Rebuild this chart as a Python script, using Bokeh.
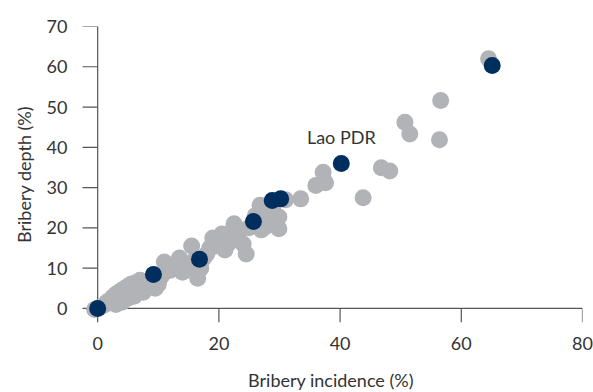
from bokeh.plotting import figure
from bokeh.models import Range1d, ColumnDataSource
from bokeh.embed import file_html
from bokeh.resources import INLINE
from bokeh.core.properties import value

# Gray: all economies
gray_x = [-0.5, 0.3, 1, 1.5, 2, 2.5, 3, 3.5, 4, 4.5, 5, 5.5, 6, 6.5, 7, 3, 4, 5, 6, 7.5, 8, 8.5, 7,
          9, 9.5, 10, 10, 10.5, 11, 12, 11, 12, 13, 13.5, 14, 14.5, 15, 15.5, 16, 16.5, 17, 17.5, 18,
          18.5, 19, 19.5, 20, 20.5, 21, 21.5, 22, 22.5, 23, 23.5, 24, 24.5, 25, 26, 26.8, 27, 27.7,
          28, 29, 29.9, 29.9, 31, 33.5, 36, 37.2, 37.6, 43.8, 46.8, 48.2, 50.7, 51.5, 56.4, 56.6, 64.5]
gray_y = [-0.3, 0.2, 0.8, 1.5, 2, 2.8, 3.5, 4, 4.5, 5, 5.5, 6, 6.2, 6.5, 7, 1, 1.5, 2.5, 3, 4, 5, 5.5, 5.5,
          6.5, 5, 6, 7, 8, 9, 9.5, 11.5, 10, 11, 12.5, 9, 10, 11, 15.5, 12, 7.5, 10, 12.5, 13.5,
          15, 17.5, 15.5, 17, 18.5, 14.5, 16, 19, 21, 17, 19.5, 16, 13.5, 20, 23, 25.6, 19.5, 20.3,
          22, 24, 22.7, 19.8, 27, 27.2, 30.5, 33.8, 31.2, 27.5, 34.9, 34.1, 46.2, 43.3, 41.9, 51.6, 62.0]

# Navy: highlighted economies
navy_x = [0, 9.2, 16.8, 25.7, 28.8, 30.2, 40.2, 65.1]
navy_y = [0, 8.4, 12.2, 21.6, 26.8, 27.2, 36.0, 60.3]

label_x = [40.2]
label_y = [36.0]
label_text = ["Lao PDR"]

x_ticks = [0, 20, 40, 60, 80]
y_ticks = [0, 10, 20, 30, 40, 50, 60, 70]

FONT = "Lato"
TXT = "#333333"
AXC = "#555555"

X_LO, X_HI = -3.0, 80.0
Y_LO, Y_HI = -3.5, 70.0

p = figure(frame_width=503, frame_height=296,
           x_range=Range1d(X_LO, X_HI), y_range=Range1d(Y_LO, Y_HI),
           output_backend="svg", toolbar_location=None,
           min_border_left=79, min_border_top=26, min_border_right=11, min_border_bottom=70)
p.outline_line_color = None
p.grid.visible = False

# axis lines crossing at the origin, with outward ticks
p.segment(x0=[0, 0], y0=[0, 0], x1=[x_ticks[-1], 0], y1=[0, y_ticks[-1]],
          line_color=AXC, line_width=1.2)
p.segment(x0=x_ticks, y0=[0] * len(x_ticks), x1=x_ticks, y1=[Y_LO] * len(x_ticks),
          line_color=AXC, line_width=1.2)
p.segment(x0=[0] * len(y_ticks), y0=y_ticks, x1=[-2.5] * len(y_ticks), y1=y_ticks,
          line_color=AXC, line_width=1.2)

p.scatter(gray_x, gray_y, size=17, fill_color="#b2b3b7", line_color=None)
p.scatter(navy_x, navy_y, size=17, fill_color="#002f5f", line_color=None)

src = ColumnDataSource(dict(x=label_x, y=label_y, t=label_text))
p.text(x="x", y="y", text="t", source=src, text_font=value(FONT), text_font_size="18px",
       text_color=TXT, text_align="center", text_baseline="middle", y_offset=-26)

for ax in (p.xaxis, p.yaxis):
    ax.axis_line_color = None
    ax.major_tick_line_color = None
    ax.major_tick_out = 0
    ax.major_tick_in = 0
    ax.minor_tick_line_color = None
    ax.major_label_text_font = FONT
    ax.major_label_text_font_size = "18px"
    ax.major_label_text_color = TXT
    ax.axis_label_text_font = FONT
    ax.axis_label_text_font_size = "18px"
    ax.axis_label_text_font_style = "normal"
    ax.axis_label_text_color = TXT

p.xaxis.ticker = x_ticks
p.yaxis.ticker = y_ticks
p.xaxis.axis_label = "Bribery incidence (%)"
p.yaxis.axis_label = "Bribery depth (%)"
p.xaxis.major_label_standoff = 14
p.yaxis.major_label_standoff = 12
p.xaxis.axis_label_standoff = 16
p.yaxis.axis_label_standoff = 9

open("out.html", "w").write(file_html(p, INLINE))
